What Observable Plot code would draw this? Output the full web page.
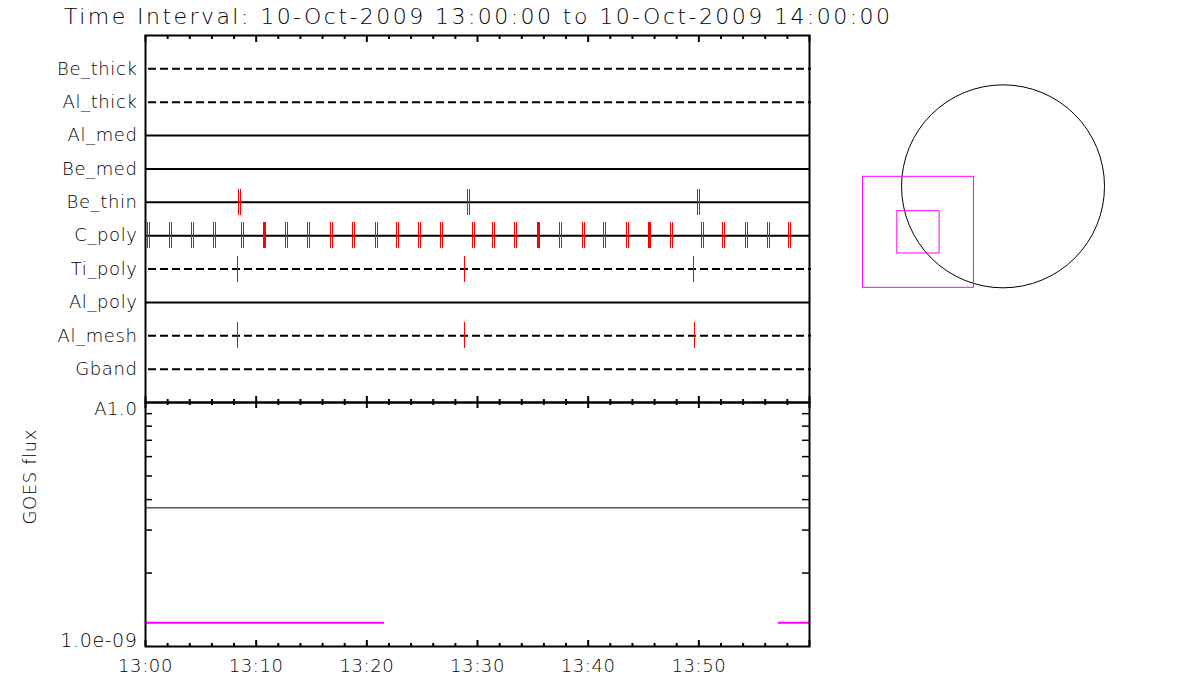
<!DOCTYPE html>
<html><head><meta charset="utf-8">
<script src="https://cdn.jsdelivr.net/npm/d3@7"></script>
<script src="https://cdn.jsdelivr.net/npm/@observablehq/plot@0.6"></script>
<style>
html,body{margin:0;padding:0;background:#fff;}
#root{position:relative;width:1200px;height:700px;overflow:hidden;background:#fff;}
#root > svg{position:absolute;}
.ls text{letter-spacing:0.6px;}
</style></head><body><div id="root"></div>
<script>
// ---------- data ----------
const day = "2009-10-10";
const timeStart = "13:00:00";
const timeEnd = "14:00:00";
const titleText = "Time Interval: 10-Oct-2009 13:00:00 to 10-Oct-2009 14:00:00";
const rows = ["Be_thick","Al_thick","Al_med","Be_med","Be_thin","C_poly","Ti_poly","Al_poly","Al_mesh","Gband"];
const dashedRows = ["Be_thick","Al_thick","Ti_poly","Al_mesh","Gband"];
const beThinPairs = ["13:08:30","13:29:13","13:49:58"];
const cPolyPairs = ["13:00:14","13:02:17","13:04:17","13:06:16","13:08:47","13:12:47","13:14:46","13:16:46",
  "13:18:45","13:20:50","13:22:48","13:24:47","13:26:46","13:29:40","13:31:29","13:33:28","13:37:31",
  "13:39:32","13:41:31","13:43:31","13:47:34","13:50:22","13:52:16","13:54:16","13:56:15","13:58:14"];
const cPolySolid = ["13:10:45","13:35:31","13:45:32"];
const tiPolySingles = ["13:08:20","13:28:51","13:49:32"];
const alMeshSingles = ["13:08:18","13:28:49","13:49:35"];
const timeTickLabels = ["13:00","13:10","13:20","13:30","13:40","13:50"];
const majorTickTimes = ["13:00","13:10","13:20","13:30","13:40","13:50","14:00"];
const fluxTickValues = [1e-9, 1e-8];
const fluxTickLabels = ["1.0e-09", "A1.0"];
const fluxMinorTicks = [2e-9,3e-9,4e-9,5e-9,6e-9,7e-9,8e-9,9e-9];
const fluxLabel = "GOES flux";
const goesLowTimes = ["13:00:00","13:21:29","13:39:00","13:57:12","14:00:00"];
const goesLowFlux  = [1.25e-9, 1.25e-9, NaN, 1.25e-9, 1.25e-9];
const goesHighTimes = ["13:00:00","14:00:00"];
const goesHighFlux  = [3.7e-9, 3.7e-9];
const sunRadius = 960;            // arcsec
const fovCenterX = [-800, -800];  // arcsec
const fovCenterY = [-435, -435];
const fovSize = [1050, 400];

// ---------- helpers ----------
const T = s => new Date(`${day}T${s.length === 5 ? s + ":00" : s}Z`);
const xDomain = [T(timeStart), T(timeEnd)];
const rowIdx = r => rows.indexOf(r) + 1;
const minorTimes = d3.utcMinute.every(2).range(xDomain[0], xDomain[1]).filter(d => d.getUTCMinutes() % 10 !== 0);
const FONT = "'DejaVu Sans', sans-serif";
const RED = "#ff0000", MAG = "#ff00ff";
const baseStyle = {background: "transparent", fontFamily: FONT, fontSize: "18px", color: "black", overflow: "visible", maxWidth: "none"};
const root = document.getElementById("root");

// ---------- title ----------
const ts = d3.create("svg").attr("width", 1200).attr("height", 34).style("left", "0px").style("top", "0px");
ts.append("text").attr("x", 64).attr("y", 24).attr("font-family", FONT).attr("font-size", 22)
  .attr("font-weight", 200).attr("textLength", 826).attr("lengthAdjust", "spacing").text(titleText);
root.appendChild(ts.node());

// ---------- top panel ----------
const evt = (data, row, dx, w) => Plot.ruleX(data, {x: T, y1: () => rowIdx(row), y2: () => rowIdx(row),
  insetTop: -13, insetBottom: -13, stroke: RED, strokeWidth: w, dx, shapeRendering: "crispEdges"});
const topPlot = Plot.plot({
  width: 830, height: 420, marginLeft: 145, marginRight: 21, marginTop: 35, marginBottom: 18,
  style: baseStyle,
  x: {type: "utc", domain: xDomain, axis: null},
  y: {domain: [0, 11], reverse: true, axis: null},
  marks: [
    Plot.ruleY(rows.filter(r => !dashedRows.includes(r)), {y: rowIdx, stroke: "black", strokeWidth: 2}),
    Plot.ruleY(dashedRows, {y: rowIdx, stroke: "black", strokeWidth: 2, strokeDasharray: "8,4", insetLeft: 3, insetRight: -2}),
    evt(beThinPairs, "Be_thin", -1, 1), evt(beThinPairs, "Be_thin", 1, 1),
    evt(cPolyPairs, "C_poly", -1, 1), evt(cPolyPairs, "C_poly", 1, 1),
    evt(cPolySolid, "C_poly", 0, 3),
    evt(tiPolySingles, "Ti_poly", 0, 1),
    evt(alMeshSingles, "Al_mesh", 0, 1),
    Plot.ruleX(minorTimes, {x: d => d, y1: () => 0, y2: () => 0, insetBottom: -4, strokeWidth: 2}),
    Plot.ruleX(majorTickTimes, {x: T, y1: () => 0, y2: () => 0, insetBottom: -7, strokeWidth: 2}),
    Plot.ruleX(minorTimes, {x: d => d, y1: () => 11, y2: () => 11, insetTop: -3, insetBottom: -3, strokeWidth: 2}),
    Plot.ruleX(majorTickTimes, {x: T, y1: () => 11, y2: () => 11, insetTop: -6, insetBottom: -6, strokeWidth: 2}),
    Plot.frame({stroke: "black", strokeWidth: 2}),
    Plot.text(rows, {y: rowIdx, text: d => d, frameAnchor: "left", textAnchor: "end", dx: -8, lineAnchor: "middle",
      fontWeight: 200, fontSize: 18, fill: "black", className: "ls"})
  ]
});
topPlot.style.left = "0px"; topPlot.style.top = "0px";
root.appendChild(topPlot);

// ---------- bottom panel ----------
const lowData = goesLowTimes.map((t, i) => ({t: T(t), f: goesLowFlux[i]}));
const highData = goesHighTimes.map((t, i) => ({t: T(t), f: goesHighFlux[i]}));
const botPlot = Plot.plot({
  width: 830, height: 310, marginLeft: 145, marginRight: 21, marginTop: 12, marginBottom: 54,
  style: baseStyle,
  x: {type: "utc", domain: xDomain, axis: null},
  y: {type: "log", domain: [fluxTickValues[0], fluxTickValues[1]], axis: null},
  marks: [
    Plot.line(highData, {x: "t", y: "f", stroke: "black", strokeWidth: 1}),
    Plot.line(lowData, {x: "t", y: "f", stroke: MAG, strokeWidth: 2}),
    Plot.ruleY(fluxMinorTicks, {y: d => d, x1: () => xDomain[0], x2: () => xDomain[0], insetRight: -7, strokeWidth: 1.5}),
    Plot.ruleY(fluxMinorTicks, {y: d => d, x1: () => xDomain[1], x2: () => xDomain[1], insetLeft: -7, strokeWidth: 1.5}),
    Plot.ruleX(minorTimes, {x: d => d, y1: () => fluxTickValues[0], y2: () => fluxTickValues[0], insetTop: -3, strokeWidth: 2}),
    Plot.ruleX(majorTickTimes, {x: T, y1: () => fluxTickValues[0], y2: () => fluxTickValues[0], insetTop: -6, strokeWidth: 2}),
    Plot.frame({stroke: "black", strokeWidth: 2}),
    Plot.text(timeTickLabels, {x: T, text: d => d, frameAnchor: "bottom", lineAnchor: "top", dy: 13, fontWeight: 200, fill: "black", className: "ls"}),
    Plot.text([fluxTickValues[1]], {y: d => d, text: () => fluxTickLabels[1], frameAnchor: "left", textAnchor: "end", lineAnchor: "top", dx: -8, fontWeight: 200, fill: "black", className: "ls"}),
    Plot.text([fluxTickValues[0]], {y: d => d, text: () => fluxTickLabels[0], frameAnchor: "left", textAnchor: "end", lineAnchor: "bottom", dx: -8, fontWeight: 200, fontSize: 19, fill: "black", className: "ls"}),
    Plot.text([fluxLabel], {text: d => d, frameAnchor: "left", rotate: -90, dx: -115, fontWeight: 200, fill: "black", className: "ls"})
  ]
});
botPlot.style.left = "0px"; botPlot.style.top = "390px";
root.appendChild(botPlot);

// ---------- sun / FOV panel ----------
const sunPlot = Plot.plot({
  width: 370, height: 400, margin: 0,
  style: {background: "transparent", overflow: "visible", maxWidth: "none"},
  x: {domain: [-1632, 1868], axis: null},
  y: {domain: [-2026, 1758], axis: null},
  r: {type: "linear", domain: [0, 3500], range: [0, 370]},
  marks: [
    Plot.dot([{x: 0, y: 0, r: sunRadius}], {x: "x", y: "y", r: "r", stroke: "black", fill: "none", strokeWidth: 1}),
    Plot.rect(fovSize, {x1: (d, i) => fovCenterX[i] - d / 2, x2: (d, i) => fovCenterX[i] + d / 2,
      y1: (d, i) => fovCenterY[i] - d / 2, y2: (d, i) => fovCenterY[i] + d / 2, stroke: MAG, fill: "none", strokeWidth: 1})
  ]
});
sunPlot.style.left = "830px"; sunPlot.style.top = "0px";
root.appendChild(sunPlot);
</script></body></html>
